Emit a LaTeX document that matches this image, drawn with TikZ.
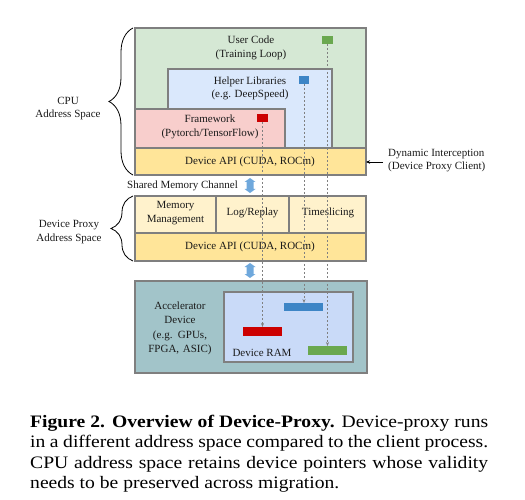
\documentclass[tikz,border=0pt]{standalone}
\usepackage{fontspec}
\setmainfont{Liberation Serif}
\newfontfamily\capfont{Liberation Serif}[FakeStretch=1.12]
\usetikzlibrary{decorations.pathreplacing,arrows.meta}
\definecolor{cpuG}{HTML}{D5E8D4}
\definecolor{helpB}{HTML}{DAE8FC}
\definecolor{fwP}{HTML}{F8CECC}
\definecolor{apiY}{HTML}{FFE599}
\definecolor{subY}{HTML}{FFF2CC}
\definecolor{accT}{HTML}{A2C4C9}
\definecolor{ramB}{HTML}{C9DAF8}
\definecolor{bord}{HTML}{7F7F7F}
\definecolor{sqG}{HTML}{6AA84F}
\definecolor{sqB}{HTML}{3D85C6}
\definecolor{sqR}{HTML}{CC0000}
\definecolor{arrB}{HTML}{6FA8DC}
\definecolor{txt}{HTML}{1A1A1A}
\newcommand{\dblarrow}[1]{%
  \fill[arrB] (#1) ++(0,-7.5) -- ++(5.5,4) -- ++(-2,0) -- ++(0,7) -- ++(2,0)
    -- ++(-5.5,4) -- ++(-5.5,-4) -- ++(2,0) -- ++(0,-7) -- ++(-2,0) -- cycle;}
\begin{document}
\begin{tikzpicture}[x=1pt,y=-1pt,
  box/.style={draw=bord,line width=1.2pt,inner sep=0pt,outer sep=0pt,anchor=north west},
  chip/.style={inner sep=0pt,outer sep=0pt,anchor=north west},
  lbl/.style={inner sep=0pt,text=txt,font=\fontsize{11}{13.5}\selectfont,align=center},
  ptr/.style={draw=gray,line width=0.6pt,dash pattern=on 2pt off 2pt,-{Stealth[length=4pt,width=3pt]}},
  brc/.style={draw=black,line width=0.8pt,decorate},
  captxt/.style={inner sep=0pt,anchor=base west,font=\capfont\fontsize{17.5}{20}\selectfont}
]
\useasboundingbox (0,0) rectangle (525,500);
% CPU address space
\node[box,fill=cpuG,minimum width=231pt,minimum height=147pt] (cpu) at (135,28) {};
\node[box,fill=helpB,minimum width=164pt,minimum height=79pt] (help) at (168,69) {};
\node[box,fill=fwP,minimum width=150pt,minimum height=39pt] (fw) at (135,109) {};
\node[box,fill=apiY,minimum width=231pt,minimum height=27pt] (api1) at (135,148) {};
\node[lbl] (tuser) at (251,48) {User Code\\(Training Loop)};
\node[lbl] (thelp) at (250,88.5) {Helper Libraries\\(e.g. DeepSpeed)};
\node[lbl] (tfw) at (210,127) {Framework\\(Pytorch/TensorFlow)};
\node[lbl] (tapi1) at (250,162) {Device API (CUDA, ROCm)};
% small squares
\node[chip,fill=sqG,minimum width=11pt,minimum height=8pt] (gsq) at (322,36) {};
\node[chip,fill=sqB,minimum width=10pt,minimum height=8pt] (bsq) at (299,76) {};
\node[chip,fill=sqR,minimum width=11pt,minimum height=8pt] (rsq) at (257,114) {};
% braces
\draw[brc,decoration={brace,amplitude=24pt}] (133,175) -- (133,28);
\node[lbl] (tcpu) at (68,108.5) {CPU\\Address Space};
% dynamic interception
\node[lbl,anchor=west,align=left] (tdyn) at (388,160.5) {Dynamic Interception\\(Device Proxy Client)};
\draw[line width=0.7pt,-{Stealth[length=4pt,width=3.5pt]}] (tdyn.west) ++(-5,1.5) coordinate (dstart) -- (dstart -| api1.east);
% shared memory
\node[lbl,anchor=east] (tshm) at (238,185.5) {Shared Memory Channel};
\coordinate (a1) at (250,185.5);
\dblarrow{a1}
% proxy
\node[box,fill=subY,minimum width=81pt,minimum height=37pt] (mem) at (135,196) {};
\node[box,fill=subY,minimum width=73pt,minimum height=37pt] (log) at (216,196) {};
\node[box,fill=subY,minimum width=77pt,minimum height=37pt] (ts) at (289,196) {};
\node[box,fill=apiY,minimum width=231pt,minimum height=28pt] (api2) at (135,233) {};
\node[lbl] (tmem) at (175.5,213) {Memory\\Management};
\node[lbl] (tlog) at (252.5,213) {Log/Replay};
\node[lbl] (tts) at (328,213) {Timeslicing};
\node[lbl] (tapi2) at (250,247) {Device API (CUDA, ROCm)};
\draw[brc,decoration={brace,amplitude=22pt}] (133,261) -- (133,196);
\node[lbl] (tprx) at (69,232) {Device Proxy\\Address Space};
\coordinate (a2) at (250,270.5);
\dblarrow{a2}
% accelerator
\node[box,fill=accT,minimum width=232pt,minimum height=92pt] (acc) at (135,281) {};
\node[box,fill=ramB,minimum width=129pt,minimum height=70pt] (ram) at (224,292) {};
\node[lbl,align=center,text width=80pt,font=\fontsize{11}{14.3}\selectfont] (tacc) at (180,328.5) {Accelerator\\Device\\(e.g. GPUs,\\FPGA, ASIC)};
\node[lbl] (tram) at (262,353) {Device RAM};
\node[chip,fill=sqB,minimum width=39pt,minimum height=8pt] (bbar) at (284,303) {};
\node[chip,fill=sqR,minimum width=39pt,minimum height=9pt] (rbar) at (243,327) {};
\node[chip,fill=sqG,minimum width=39pt,minimum height=9pt] (gbar) at (308,346) {};
% pointers
\draw[ptr] (rsq.south) -- (rsq.south |- rbar.north);
\draw[ptr] (bsq.south) -- (bsq.south |- bbar.north);
\draw[ptr] (gsq.south) -- (gsq.south |- gbar.north);
% caption
\node[captxt] (c1) at (30,427) {\makebox[458pt][s]{\textbf{Figure 2. Overview of Device-Proxy.} Device-proxy runs}};
\node[captxt] (c2) at (30,447.5) {\makebox[458pt][s]{in a different address space compared to the client process.}};
\node[captxt] (c3) at (30,468) {\makebox[458pt][s]{CPU address space retains device pointers whose validity}};
\node[captxt] (c4) at (30,488) {needs to be preserved across migration.};
\end{tikzpicture}
\end{document}
